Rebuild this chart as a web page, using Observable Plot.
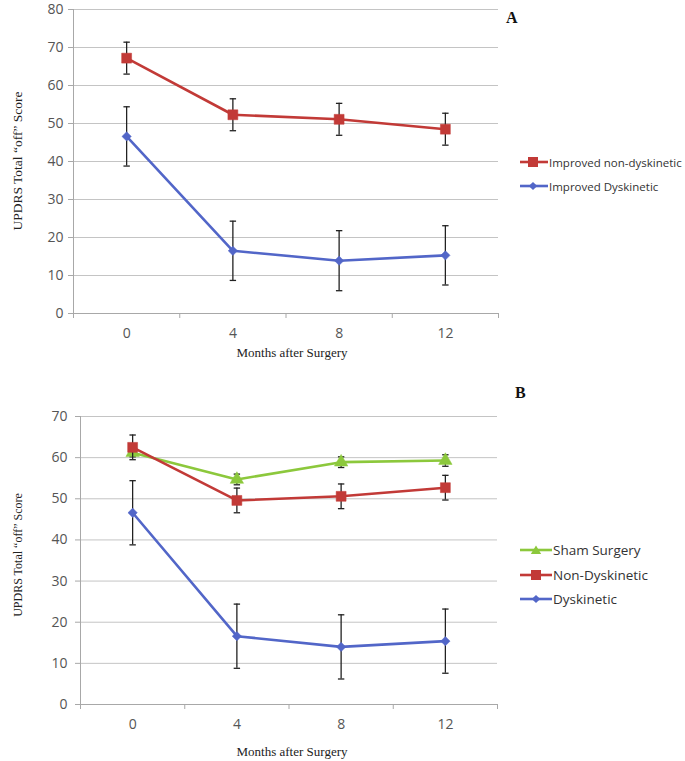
<!DOCTYPE html>
<html>
<head>
<meta charset="utf-8">
<script src="https://cdn.jsdelivr.net/npm/d3@7"></script>
<script src="https://cdn.jsdelivr.net/npm/@observablehq/plot@0.6"></script>
<style>
  html, body { margin: 0; padding: 0; background: #fff; }
  #wrap { position: relative; width: 685px; height: 761px; overflow: hidden; background: #fff; }
  .abs { position: absolute; }
  .ytitle { font-family: "Liberation Serif", "DejaVu Serif", serif; color: #222; white-space: nowrap;
            transform: translate(-50%, -50%) rotate(-90deg); }
  .xtitle { font-family: "Liberation Serif", "DejaVu Serif", serif; color: #222; white-space: nowrap;
            transform: translate(-50%, -50%); font-size: 13px; }
  .letter { font-family: "Liberation Serif", "DejaVu Serif", serif; font-weight: bold; font-size: 16px; color: #111; }
  .legend { font-family: "Open Sans", "Liberation Sans", sans-serif; color: #333; }
  .legend .item { display: flex; align-items: center; white-space: nowrap; }
</style>
</head>
<body>
<div id="wrap"></div>
<script>
// ---------- data ----------
const months = [0, 4, 8, 12];

// Panel A
const improvedNonDysk    = [67.2, 52.3, 51.1, 48.5];
const improvedNonDyskErr = [4.2, 4.2, 4.2, 4.2];
const improvedDysk       = [46.6, 16.5, 13.9, 15.3];
const improvedDyskErr    = [7.8, 7.8, 7.9, 7.8];

// Panel B
const sham        = [61.2, 54.7, 58.9, 59.3];
const shamErr     = [1.0, 1.3, 1.3, 1.4];
const nonDysk     = [62.5, 49.6, 50.6, 52.7];
const nonDyskErr  = [3.0, 3.0, 3.0, 3.0];
const dysk        = [46.6, 16.6, 14.0, 15.4];
const dyskErr     = [7.8, 7.8, 7.8, 7.8];

const seriesNamesA = ["Improved non-dyskinetic", "Improved Dyskinetic"];
const seriesNamesB = ["Sham Surgery", "Non-Dyskinetic", "Dyskinetic"];

const RED = "#c23a37", BLUE = "#5266c8", GREEN = "#8cc83c";

// ---------- helpers ----------
const capSymbol = {
  draw(context, size) {
    const w = 3.2;
    context.moveTo(-w, 0);
    context.lineTo(w, 0);
  }
};

function rows(values, errs) {
  return months.map((m, i) => ({month: m, value: values[i], err: errs[i]}));
}

function seriesMarks(data, color, symbol, r) {
  return [
    Plot.line(data, {x: "month", y: "value", stroke: color, strokeWidth: 2.6}),
    Plot.ruleX(data, {x: "month", y1: d => d.value - d.err, y2: d => d.value + d.err, stroke: "#222", strokeWidth: 1.3}),
    Plot.dot(data, {x: "month", y: d => d.value + d.err, symbol: capSymbol, stroke: "#222", strokeWidth: 1.3, r: 3}),
    Plot.dot(data, {x: "month", y: d => d.value - d.err, symbol: capSymbol, stroke: "#222", strokeWidth: 1.3, r: 3}),
    Plot.dot(data, {x: "month", y: "value", symbol, fill: color, stroke: color, strokeWidth: 0.5, r})
  ];
}

function panel({height, marginTop, marginLeft, marginRight, marginBottom, yMax, yPad, series}) {
  const yTicks = d3.range(0, yMax + 1, 10);
  return Plot.plot({
    width: 685, height, marginTop, marginLeft, marginRight, marginBottom,
    x: {domain: [-2, 14]},
    y: {domain: [0, yMax]},
    style: {fontFamily: "'Open Sans', 'Liberation Sans', sans-serif", fontSize: "14px", color: "#555", background: "transparent", overflow: "visible"},
    marks: [
      Plot.ruleY(yTicks.slice(1), {stroke: "#c4c4c4", strokeWidth: 1}),
      Plot.ruleY([0], {stroke: "#a8a8a8", strokeWidth: 1}),
      Plot.ruleX([-2], {stroke: "#a8a8a8", strokeWidth: 1, insetBottom: -5}),
      Plot.axisY({ticks: yTicks, tickSize: 5, tickPadding: yPad, stroke: "#a8a8a8", fill: "#555", label: null}),
      Plot.axisX({ticks: [2, 6, 10, 14], tickSize: 5, tickFormat: () => "", stroke: "#a8a8a8", label: null}),
      Plot.axisX({ticks: months, tickSize: 0, tickPadding: 15, tickFormat: d => String(d), fill: "#555", label: null}),
      ...series.flatMap(s => seriesMarks(s.data, s.color, s.symbol, s.r))
    ]
  });
}

function legendIcon(color, shape, w, cx) {
  let marker = "";
  if (shape === "square") marker = `<rect x="${cx - 5}" y="1" width="10" height="10" fill="${color}"/>`;
  if (shape === "diamond") marker = `<path d="M${cx} 2 L${cx + 4.2} 6 L${cx} 10 L${cx - 4.2} 6 Z" fill="${color}"/>`;
  if (shape === "triangle") marker = `<path d="M${cx} 1.5 L${cx + 5.2} 10 L${cx - 5.2} 10 Z" fill="${color}"/>`;
  return `<svg width="${w}" height="12" style="margin-right:1px"><line x1="0" x2="${w}" y1="6" y2="6" stroke="${color}" stroke-width="2.6"/>${marker}</svg>`;
}

function legend(items, left, top, opts) {
  const div = document.createElement("div");
  div.className = "abs legend";
  div.style.left = left + "px";
  div.style.top = top + "px";
  div.style.fontSize = opts.fontSize + "px";
  div.innerHTML = items.map(it =>
    `<div class="item" style="height:${opts.rowH}px">${legendIcon(it.color, it.shape, opts.w, opts.cx)}<span>${it.name}</span></div>`
  ).join("");
  return div;
}

function textDiv(cls, text, left, top, fontSize) {
  const div = document.createElement("div");
  div.className = "abs " + cls;
  div.style.left = left + "px";
  div.style.top = top + "px";
  if (fontSize) div.style.fontSize = fontSize + "px";
  div.textContent = text;
  return div;
}

// ---------- build ----------
const wrap = document.getElementById("wrap");

const plotA = panel({
  height: 372, marginTop: 9, marginLeft: 73, marginRight: 187, marginBottom: 59, yMax: 80, yPad: 5,
  series: [
    {data: rows(improvedNonDysk, improvedNonDyskErr), color: RED, symbol: "square", r: 5.6},
    {data: rows(improvedDysk, improvedDyskErr), color: BLUE, symbol: "diamond2", r: 4.2}
  ]
});
plotA.style.position = "absolute"; plotA.style.left = "0px"; plotA.style.top = "0px";
wrap.appendChild(plotA);

const plotB = panel({
  height: 381, marginTop: 36, marginLeft: 80, marginRight: 188, marginBottom: 57, yMax: 70, yPad: 8,
  series: [
    {data: rows(sham, shamErr), color: GREEN, symbol: "triangle", r: 5},
    {data: rows(nonDysk, nonDyskErr), color: RED, symbol: "square", r: 5.6},
    {data: rows(dysk, dyskErr), color: BLUE, symbol: "diamond2", r: 4.2}
  ]
});
plotB.style.position = "absolute"; plotB.style.left = "0px"; plotB.style.top = "380px";
wrap.appendChild(plotB);

// titles
wrap.appendChild(textDiv("ytitle", "UPDRS Total “off” Score", 18, 161, 13.5));
wrap.appendChild(textDiv("ytitle", "UPDRS Total “off” Score", 18, 555, 12));
wrap.appendChild(textDiv("xtitle", "Months after Surgery", 292, 353));
wrap.appendChild(textDiv("xtitle", "Months after Surgery", 292, 752));
wrap.appendChild(textDiv("letter", "A", 506, 9));
wrap.appendChild(textDiv("letter", "B", 515, 384));

wrap.appendChild(legend([
  {name: seriesNamesA[0], color: RED, shape: "square"},
  {name: seriesNamesA[1], color: BLUE, shape: "diamond"}
], 520, 150, {fontSize: 11.5, rowH: 24, w: 28, cx: 13}));

wrap.appendChild(legend([
  {name: seriesNamesB[0], color: GREEN, shape: "triangle"},
  {name: seriesNamesB[1], color: RED, shape: "square"},
  {name: seriesNamesB[2], color: BLUE, shape: "diamond"}
], 520, 538, {fontSize: 13.5, rowH: 24.5, w: 32, cx: 16}));
</script>
</body>
</html>
